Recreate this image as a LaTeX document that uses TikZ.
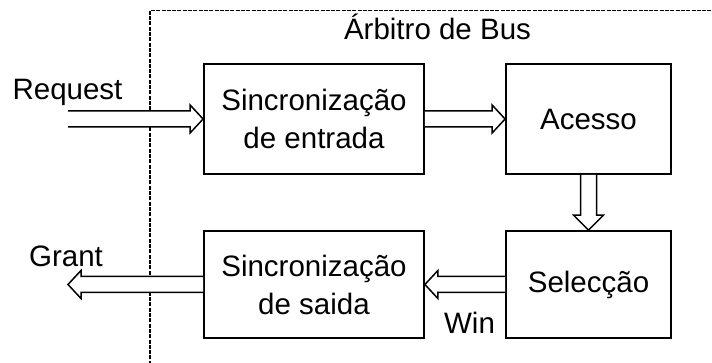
\documentclass[tikz,border=0pt]{standalone}
\usepackage{fontspec}
\setmainfont{Liberation Sans}
\usetikzlibrary{calc}
\tikzset{
  blk/.style={draw, line width=1.8pt, minimum width=#1, inner sep=0pt},
  blk/.default=220pt,
  lbl/.style={font=\fontsize{29.5}{38}\selectfont, anchor=base, inner sep=0pt},
  boxtext/.style={align=center, font=\fontsize{29.5}{38}\selectfont},
  blockarrow/.style={draw, line width=1.5pt, fill=white, line join=miter},
  frame/.style={draw, line width=1.7pt, dash pattern=on 4pt off 1.3pt}
}
% horizontal block arrow: #1 tail, #2 tip, #3 head direction (1 right, -1 left)
\newcommand{\hblockarrow}[3]{%
  \draw[blockarrow] ($(#1 |- #2)+(0,-8)$) -- ($(#2)+({-13*(#3)},-8)$) -- ($(#2)+({-13*(#3)},-14)$) -- (#2)
    -- ($(#2)+({-13*(#3)},14)$) -- ($(#2)+({-13*(#3)},8)$) -- ($(#1 |- #2)+(0,8)$);}
% vertical block arrow pointing down: #1 tail, #2 tip
\newcommand{\vblockarrow}[2]{%
  \draw[blockarrow] ($(#2 |- #1)+(-8,0)$) -- ($(#2)+(-8,-15)$) -- ($(#2)+(-15,-15)$) -- (#2)
    -- ($(#2)+(15,-15)$) -- ($(#2)+(8,-15)$) -- ($(#2 |- #1)+(8,0)$);}
\begin{document}
\begin{tikzpicture}[x=1pt,y=-1pt]
\useasboundingbox (0,0) rectangle (712,363);
% dashed frame
\coordinate (fbl) at (150,370);
\coordinate (ftl) at (150,10.5);
\coordinate (ftr) at (720,10.5);
\draw[frame] (fbl) -- (ftl) -- (ftr);
\node[lbl] (title) at (437.5,40) {Árbitro de Bus};
% boxes
\node[blk=220pt, minimum height=110pt, boxtext] (sin) at (314,119) {Sincronização\\de entrada};
\node[blk=165pt, minimum height=110pt, boxtext] (acc) at (588.5,119) {Acesso};
\node[blk=165pt, minimum height=107pt, boxtext] (sel) at (588.5,284.5) {Selecção};
\node[blk=220pt, minimum height=107pt, boxtext] (sout) at (314,284.5) {Sincronização\\de saida};
% free ends
\coordinate (reqtail) at (68,119);
\coordinate (granttip) at (68,284.5);
% arrows
\hblockarrow{reqtail}{sin.west}{1}
\hblockarrow{sin.east}{acc.west}{1}
\vblockarrow{acc.south}{sel.north}
\hblockarrow{sel.west}{sout.east}{-1}
\hblockarrow{sout.west}{granttip}{-1}
% labels
\node[lbl] (req) at (67.5,100) {Request};
\node[lbl] (grant) at (66,267) {Grant};
\node[lbl] (win) at (469.5,333) {Win};
\end{tikzpicture}
\end{document}
